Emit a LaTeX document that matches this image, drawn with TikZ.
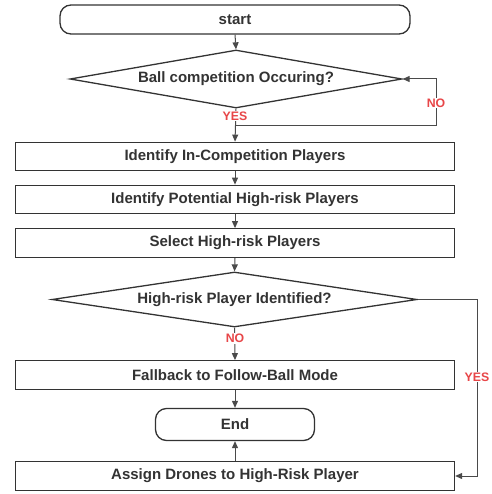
\documentclass[tikz,border=0pt]{standalone}
\usepackage{fontspec}
\setmainfont{Liberation Sans}
\usetikzlibrary{shapes.geometric,arrows.meta}
\definecolor{ink}{HTML}{333333}
\definecolor{wire}{HTML}{4A4A4A}
\definecolor{lblred}{RGB}{232,70,72}
\tikzset{
  txt/.style={text=ink, font=\fontsize{15}{17}\selectfont\bfseries},
  boxstep/.style={draw=ink, line width=1.3pt, fill=white, rectangle, minimum width=439pt, minimum height=28.5pt, inner sep=0pt, txt},
  termstep/.style={boxstep, rounded corners=11pt},
  decstep/.style={draw=ink, line width=1.3pt, fill=white, diamond, inner sep=0pt},
  conn/.style={draw=wire, line width=1pt, -{Triangle[length=7pt,width=6pt]}},
  lbl/.style={text=lblred, fill=white, inner sep=1pt, font=\fontsize{12.3}{14}\selectfont\bfseries}
}
\begin{document}
\begin{tikzpicture}[x=1pt,y=-1pt]
\useasboundingbox (0,0) rectangle (491,494);
\fill[white] (0,0) rectangle (491,494);

\node[termstep, minimum width=350pt, minimum height=29pt] (start) at (235,19.5) {start};
\node[decstep, minimum width=332pt, minimum height=58pt] (d1) at (236,79) {};
\node[txt] (d1t) at (d1.center) {Ball competition Occuring?};
\node[boxstep] (b1) at (235,156.5) {Identify In-Competition Players};
\node[boxstep] (b2) at (235,199.5) {Identify Potential High-risk Players};
\node[boxstep] (b3) at (235,243) {Select High-risk Players};
\node[decstep, minimum width=365pt, minimum height=55pt] (d2) at (234.5,299.5) {};
\node[txt] (d2t) at (d2.center) {High-risk Player Identified?};
\node[boxstep] (b4) at (235,375) {Fallback to Follow-Ball Mode};
\node[termstep, minimum width=159pt, minimum height=32pt] (end) at (235,424.5) {End};
\node[boxstep] (b5) at (235,476) {Assign Drones to High-Risk Player};

\coordinate (j1) at (235,126);
\coordinate (c1) at (436,126);
\coordinate (c2) at (436,79);
\coordinate (c3) at (477,299.5);
\coordinate (c4) at (477,476);

\draw[conn] (start.south) -- (d1.north);
\draw[conn] (d1.south) -- (b1.north);
\draw[conn] (j1) -- (c1) -- (c2) -- (d1.east);
\draw[conn] (b1.south) -- (b2.north);
\draw[conn] (b2.south) -- (b3.north);
\draw[conn] (b3.south) -- (d2.north);
\draw[conn] (d2.south) -- (b4.north);
\draw[conn] (b4.south) -- (end.north);
\draw[conn] (b5.north) -- (end.south);
\draw[conn] (d2.east) -- (c3) -- (c4) -- (b5.east);

\node[lbl] (yes1) at (235,116) {YES};
\node[lbl] (no1) at (436,103) {NO};
\node[lbl] (no2) at (235,338.5) {NO};
\node[lbl] (yes2) at (477,377) {YES};
\end{tikzpicture}
\end{document}
